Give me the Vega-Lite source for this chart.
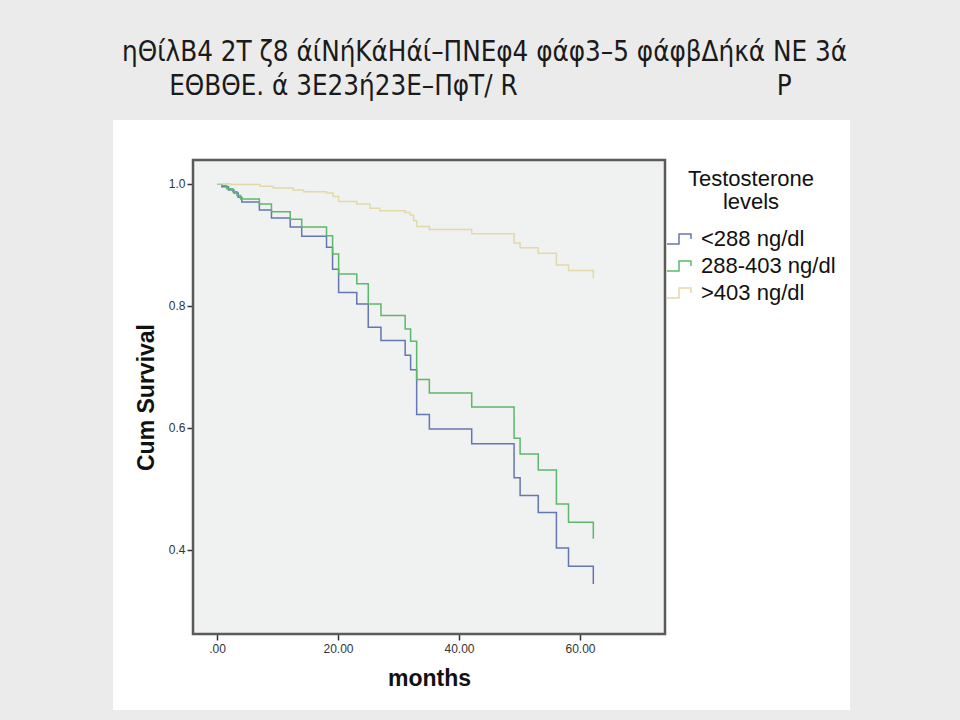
{
  "$schema": "https://vega.github.io/schema/vega-lite/v6.json",
  "width": 737,
  "height": 590,
  "autosize": {"type": "none"},
  "padding": {"left": 113, "top": 120, "right": 110, "bottom": 10},
  "background": "#ebebeb",
  "view": {"fill": "#ffffff", "stroke": null},
  "title": {
    "text": ["ηΘίλΒ4 2Τ ζ8 άίΝήΚάΗάί–ΠΝΕφ4 φάφ3–5 φάφβΔήκά ΝΕ 3ά", "\u200b\u00a0\u00a0\u00a0\u00a0\u00a0\u00a0ΕΘΒΘΕ. ά 3Ε23ή23Ε–ΠφΤ/ R\u00a0\u00a0\u00a0\u00a0\u00a0\u00a0\u00a0\u00a0\u00a0\u00a0\u00a0\u00a0\u00a0\u00a0\u00a0\u00a0\u00a0\u00a0\u00a0\u00a0\u00a0\u00a0\u00a0\u00a0\u00a0\u00a0\u00a0\u00a0\u00a0\u00a0\u00a0\u00a0\u00a0P"],
    "anchor": "start",
    "frame": "group",
    "font": "DejaVu Sans Condensed",
    "fontSize": 27.5,
    "fontWeight": "normal",
    "color": "#1a1a1a",
    "lineHeight": 34,
    "offset": 20,
    "dx": 9
  },
  "datasets": {
    "km": [
      {"group": "<288 ng/dl", "months": 0, "survival": 1.0},
      {"group": "<288 ng/dl", "months": 0.8, "survival": 0.995},
      {"group": "<288 ng/dl", "months": 1.9, "survival": 0.99},
      {"group": "<288 ng/dl", "months": 2.8, "survival": 0.985},
      {"group": "<288 ng/dl", "months": 3.5, "survival": 0.978},
      {"group": "<288 ng/dl", "months": 4.1, "survival": 0.97},
      {"group": "<288 ng/dl", "months": 7.0, "survival": 0.957},
      {"group": "<288 ng/dl", "months": 9.0, "survival": 0.944},
      {"group": "<288 ng/dl", "months": 12.1, "survival": 0.929},
      {"group": "<288 ng/dl", "months": 14.0, "survival": 0.914},
      {"group": "<288 ng/dl", "months": 18.1, "survival": 0.896},
      {"group": "<288 ng/dl", "months": 19.1, "survival": 0.86},
      {"group": "<288 ng/dl", "months": 20.1, "survival": 0.822},
      {"group": "<288 ng/dl", "months": 23.1, "survival": 0.803},
      {"group": "<288 ng/dl", "months": 25.0, "survival": 0.765},
      {"group": "<288 ng/dl", "months": 27.1, "survival": 0.743},
      {"group": "<288 ng/dl", "months": 31.1, "survival": 0.719},
      {"group": "<288 ng/dl", "months": 32.0, "survival": 0.695},
      {"group": "<288 ng/dl", "months": 33.0, "survival": 0.622},
      {"group": "<288 ng/dl", "months": 35.1, "survival": 0.598},
      {"group": "<288 ng/dl", "months": 42.1, "survival": 0.574},
      {"group": "<288 ng/dl", "months": 49.1, "survival": 0.518},
      {"group": "<288 ng/dl", "months": 50.1, "survival": 0.489},
      {"group": "<288 ng/dl", "months": 53.1, "survival": 0.461},
      {"group": "<288 ng/dl", "months": 56.1, "survival": 0.403},
      {"group": "<288 ng/dl", "months": 58.1, "survival": 0.373},
      {"group": "<288 ng/dl", "months": 62.2, "survival": 0.344},
      {"group": "288-403 ng/dl", "months": 0, "survival": 1.0},
      {"group": "288-403 ng/dl", "months": 0.8, "survival": 0.997},
      {"group": "288-403 ng/dl", "months": 1.6, "survival": 0.992},
      {"group": "288-403 ng/dl", "months": 2.6, "survival": 0.987},
      {"group": "288-403 ng/dl", "months": 3.3, "survival": 0.981},
      {"group": "288-403 ng/dl", "months": 3.9, "survival": 0.975},
      {"group": "288-403 ng/dl", "months": 7.0, "survival": 0.967},
      {"group": "288-403 ng/dl", "months": 9.0, "survival": 0.954},
      {"group": "288-403 ng/dl", "months": 12.1, "survival": 0.942},
      {"group": "288-403 ng/dl", "months": 14.0, "survival": 0.929},
      {"group": "288-403 ng/dl", "months": 18.1, "survival": 0.915},
      {"group": "288-403 ng/dl", "months": 19.1, "survival": 0.885},
      {"group": "288-403 ng/dl", "months": 20.1, "survival": 0.852},
      {"group": "288-403 ng/dl", "months": 23.1, "survival": 0.836},
      {"group": "288-403 ng/dl", "months": 25.0, "survival": 0.803},
      {"group": "288-403 ng/dl", "months": 27.1, "survival": 0.784},
      {"group": "288-403 ng/dl", "months": 31.1, "survival": 0.762},
      {"group": "288-403 ng/dl", "months": 32.0, "survival": 0.742},
      {"group": "288-403 ng/dl", "months": 33.0, "survival": 0.679},
      {"group": "288-403 ng/dl", "months": 35.1, "survival": 0.657},
      {"group": "288-403 ng/dl", "months": 42.1, "survival": 0.634},
      {"group": "288-403 ng/dl", "months": 49.1, "survival": 0.583},
      {"group": "288-403 ng/dl", "months": 50.1, "survival": 0.557},
      {"group": "288-403 ng/dl", "months": 53.1, "survival": 0.531},
      {"group": "288-403 ng/dl", "months": 56.1, "survival": 0.475},
      {"group": "288-403 ng/dl", "months": 58.1, "survival": 0.445},
      {"group": "288-403 ng/dl", "months": 62.2, "survival": 0.418},
      {"group": ">403 ng/dl", "months": 0, "survival": 1.0},
      {"group": ">403 ng/dl", "months": 2.2, "survival": 0.999},
      {"group": ">403 ng/dl", "months": 7.1, "survival": 0.996},
      {"group": ">403 ng/dl", "months": 9.3, "survival": 0.993},
      {"group": ">403 ng/dl", "months": 12.6, "survival": 0.99},
      {"group": ">403 ng/dl", "months": 14.3, "survival": 0.987},
      {"group": ">403 ng/dl", "months": 18.1, "survival": 0.985},
      {"group": ">403 ng/dl", "months": 19.2, "survival": 0.979},
      {"group": ">403 ng/dl", "months": 20.1, "survival": 0.971},
      {"group": ">403 ng/dl", "months": 23.1, "survival": 0.967},
      {"group": ">403 ng/dl", "months": 25.3, "survival": 0.96},
      {"group": ">403 ng/dl", "months": 26.9, "survival": 0.956},
      {"group": ">403 ng/dl", "months": 31.1, "survival": 0.953},
      {"group": ">403 ng/dl", "months": 31.9, "survival": 0.949},
      {"group": ">403 ng/dl", "months": 32.5, "survival": 0.94},
      {"group": ">403 ng/dl", "months": 33.0, "survival": 0.93},
      {"group": ">403 ng/dl", "months": 35.1, "survival": 0.925},
      {"group": ">403 ng/dl", "months": 42.1, "survival": 0.918},
      {"group": ">403 ng/dl", "months": 49.1, "survival": 0.903},
      {"group": ">403 ng/dl", "months": 50.1, "survival": 0.895},
      {"group": ">403 ng/dl", "months": 53.1, "survival": 0.886},
      {"group": ">403 ng/dl", "months": 56.1, "survival": 0.867},
      {"group": ">403 ng/dl", "months": 58.1, "survival": 0.858},
      {"group": ">403 ng/dl", "months": 62.2, "survival": 0.845}
    ]
  },
  "layer": [
    {
      "data": {"values": [{}]},
      "mark": {"type": "rect", "fill": "#f0f1f1", "stroke": "#5a5a5a", "strokeWidth": 2.5, "clip": false},
      "encoding": {
        "x": {"datum": -3.97, "type": "quantitative", "scale": {"domain": [-3.97, 74.05], "range": [80, 552], "nice": false, "zero": false}},
        "x2": {"datum": 74.05},
        "y": {"datum": 0.262, "type": "quantitative", "scale": {"domain": [0.262, 1.039], "range": [514, 40], "nice": false, "zero": false}},
        "y2": {"datum": 1.039}
      }
    },
    {
      "data": {"name": "km"},
      "mark": {"type": "line", "interpolate": "step-after", "strokeWidth": 1.5},
      "encoding": {
        "x": {
          "field": "months", "type": "quantitative",
          "axis": {
            "title": "months", "values": [0, 20, 40, 60],
            "labelExpr": "datum.value == 0 ? '.00' : format(datum.value, '.2f')",
            "offset": -76, "domain": false, "grid": false,
            "tickColor": "#333333", "tickSize": 6, "tickWidth": 1.5,
            "labelFont": "Liberation Sans", "labelFontSize": 12, "labelColor": "#333333", "labelPadding": 3,
            "titleFont": "Liberation Sans", "titleFontSize": 23, "titleFontWeight": "bold", "titleColor": "#111111", "titlePadding": 13
          }
        },
        "y": {
          "field": "survival", "type": "quantitative",
          "axis": {
            "title": "Cum Survival", "values": [0.4, 0.6, 0.8, 1.0], "format": ".1f",
            "offset": -80, "domain": false, "grid": false,
            "tickColor": "#333333", "tickSize": 6, "tickWidth": 1.5,
            "labelFont": "Liberation Sans", "labelFontSize": 12, "labelColor": "#333333", "labelPadding": 2,
            "titleFont": "Liberation Sans", "titleFontSize": 23, "titleFontWeight": "bold", "titleColor": "#111111", "titlePadding": 10
          }
        },
        "color": {
          "field": "group", "type": "nominal",
          "scale": {"domain": ["<288 ng/dl", "288-403 ng/dl", ">403 ng/dl"], "range": ["#6577b3", "#5cb86a", "#e3d9a6"]},
          "legend": {
            "title": ["Testosterone", "levels"],
            "orient": "none", "legendX": 553, "legendY": 49,
            "titleFont": "Liberation Sans", "titleFontSize": 22, "titleFontWeight": "normal", "titleColor": "#111111",
            "titleAnchor": "middle", "titleAlign": "center", "titleLineHeight": 23, "titlePadding": 9,
            "labelFont": "Liberation Sans", "labelFontSize": 22, "labelColor": "#111111", "labelOffset": 3,
            "symbolType": "M-1,0.33H-0.2V-0.33H0.6V0", "symbolSize": 900, "symbolStrokeWidth": 1.5, "symbolFillColor": "transparent",
            "rowPadding": 0
          }
        }
      }
    }
  ]
}
